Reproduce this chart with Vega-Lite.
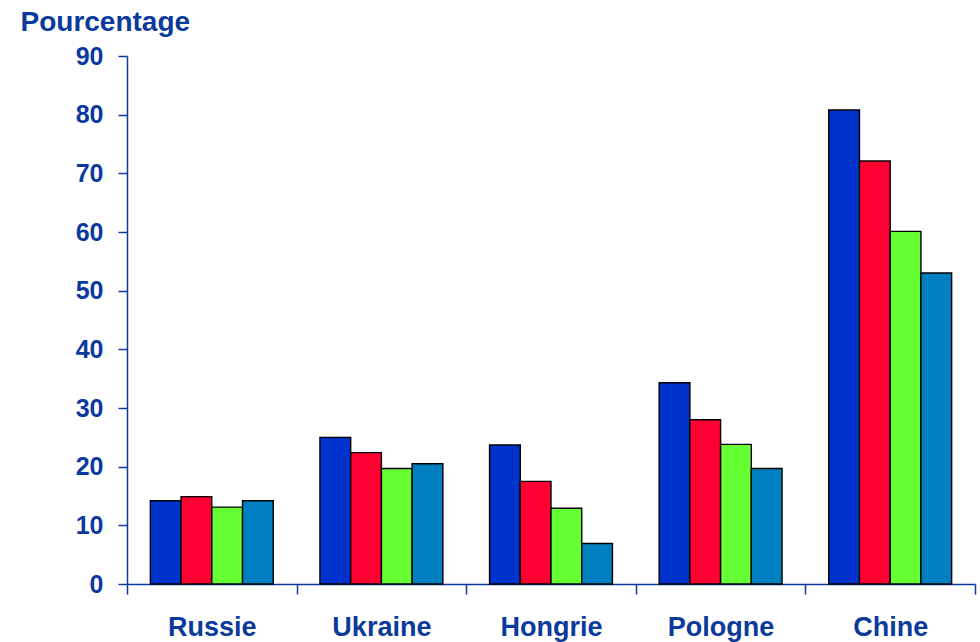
{
  "$schema": "https://vega.github.io/schema/vega-lite/v6.json",
  "width": 848,
  "height": 528,
  "autosize": {"type": "none"},
  "padding": {"left": 127, "top": 56, "right": 5, "bottom": 58},
  "background": "white",
  "config": {"view": {"stroke": null}, "font": "Liberation Sans"},
  "data": {
    "values": [
      {"pays": "Russie", "serie": "s1", "valeur": 14.2},
      {"pays": "Russie", "serie": "s2", "valeur": 14.9},
      {"pays": "Russie", "serie": "s3", "valeur": 13.1},
      {"pays": "Russie", "serie": "s4", "valeur": 14.2},
      {"pays": "Ukraine", "serie": "s1", "valeur": 25.0},
      {"pays": "Ukraine", "serie": "s2", "valeur": 22.4},
      {"pays": "Ukraine", "serie": "s3", "valeur": 19.7},
      {"pays": "Ukraine", "serie": "s4", "valeur": 20.5},
      {"pays": "Hongrie", "serie": "s1", "valeur": 23.7},
      {"pays": "Hongrie", "serie": "s2", "valeur": 17.5},
      {"pays": "Hongrie", "serie": "s3", "valeur": 12.9},
      {"pays": "Hongrie", "serie": "s4", "valeur": 6.9},
      {"pays": "Pologne", "serie": "s1", "valeur": 34.3},
      {"pays": "Pologne", "serie": "s2", "valeur": 28.0},
      {"pays": "Pologne", "serie": "s3", "valeur": 23.8},
      {"pays": "Pologne", "serie": "s4", "valeur": 19.7},
      {"pays": "Chine", "serie": "s1", "valeur": 80.8},
      {"pays": "Chine", "serie": "s2", "valeur": 72.1},
      {"pays": "Chine", "serie": "s3", "valeur": 60.1},
      {"pays": "Chine", "serie": "s4", "valeur": 53.0}
    ]
  },
  "mark": {"type": "bar", "stroke": "black", "strokeWidth": 1.4},
  "encoding": {
    "x": {
      "field": "pays",
      "type": "nominal",
      "sort": ["Russie", "Ukraine", "Hongrie", "Pologne", "Chine"],
      "scale": {"paddingInner": 0, "paddingOuter": 0},
      "axis": {
        "title": null,
        "labelAngle": 0,
        "tickBand": "extent",
        "tickSize": 10,
        "tickWidth": 1.5,
        "domainWidth": 1.5,
        "tickColor": "#0a3a9c",
        "domainColor": "#0a3a9c",
        "labelColor": "#0a3a9c",
        "labelFont": "Liberation Sans",
        "labelFontWeight": "bold",
        "labelFontSize": 27,
        "labelPadding": 20
      }
    },
    "xOffset": {
      "field": "serie",
      "type": "nominal",
      "scale": {"paddingInner": 0, "paddingOuter": 0.76}
    },
    "y": {
      "field": "valeur",
      "type": "quantitative",
      "scale": {"domain": [0, 90], "nice": false},
      "axis": {
        "values": [0, 10, 20, 30, 40, 50, 60, 70, 80, 90],
        "grid": false,
        "tickSize": 9,
        "tickWidth": 1.5,
        "domainWidth": 1.5,
        "tickColor": "#0a3a9c",
        "domainColor": "#0a3a9c",
        "labelColor": "#0a3a9c",
        "labelFont": "Liberation Sans",
        "labelFontWeight": "bold",
        "labelFontSize": 25,
        "labelPadding": 15,
        "title": "Pourcentage",
        "titleColor": "#0a3a9c",
        "titleFont": "Liberation Sans",
        "titleFontWeight": "bold",
        "titleFontSize": 28,
        "titleAngle": 0,
        "titleAlign": "left",
        "titleBaseline": "alphabetic",
        "titleX": -107,
        "titleY": -26
      }
    },
    "color": {
      "field": "serie",
      "type": "nominal",
      "scale": {"domain": ["s1", "s2", "s3", "s4"], "range": ["#0033cc", "#ff0033", "#66ff33", "#0080c0"]},
      "legend": null
    }
  }
}
